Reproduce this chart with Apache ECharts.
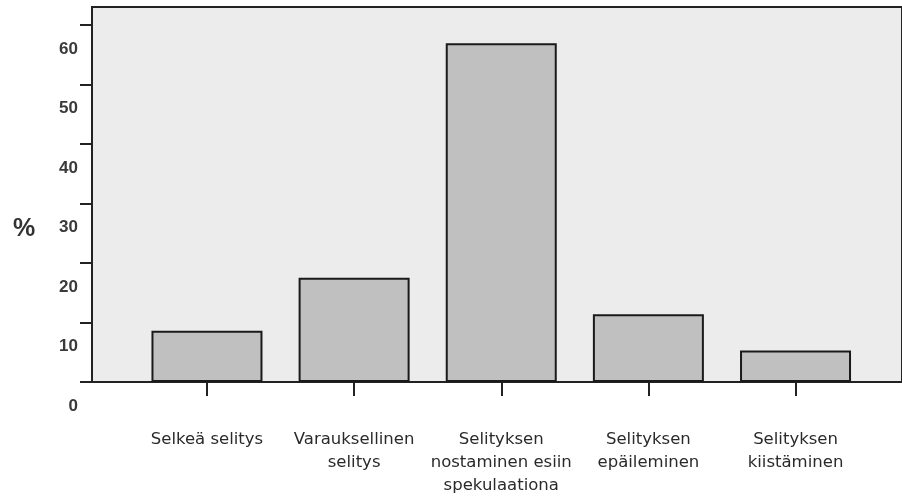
<!DOCTYPE html>
<html>
<head>
<meta charset="utf-8">
<script src="https://cdn.jsdelivr.net/npm/echarts@6/dist/echarts.min.js"></script>
<style>
html,body{margin:0;padding:0;background:#fff;}
#chart{width:902px;height:497px;}
</style>
</head>
<body>
<div id="chart"></div>
<script>
var categories = ['Selkeä selitys', 'Varauksellinen\nselitys', 'Selityksen\nnostaminen esiin\nspekulaationa', 'Selityksen\nepäileminen', 'Selityksen\nkiistäminen'];
var values = [8.6, 17.5, 56.9, 11.4, 5.3];
var yTicks = [0, 10, 20, 30, 40, 50, 60];
var yMax = 63;

var chart = echarts.init(document.getElementById('chart'));
chart.setOption({
  animation: false,
  title: {
    text: '%', left: 8, top: 212,
    textStyle: {fontFamily: 'Liberation Sans', fontWeight: 'bold', fontSize: 25, color: '#333'}
  },
  grid: [
    {left: 92, top: 7, width: 815, bottom: 115, show: true, backgroundColor: '#ececec', borderColor: '#222', borderWidth: 2},
    {left: 133.4, top: 7, width: 735.7, bottom: 115}
  ],
  xAxis: [
    {gridIndex: 0, type: 'value', min: 0, max: 1, axisLine: {show: true, lineStyle: {color: '#222', width: 2}}, axisTick: {show: false}, axisLabel: {show: false}, splitLine: {show: false}},
    {gridIndex: 1, type: 'category', data: categories,
      axisLine: {show: false},
      axisTick: {show: true, alignWithLabel: true, length: 14, lineStyle: {color: '#222', width: 2}},
      axisLabel: {margin: 46, fontFamily: 'DejaVu Sans', fontSize: 16.5, lineHeight: 23, color: '#2a2a2a', interval: 0}
    }
  ],
  yAxis: [
    {gridIndex: 0, type: 'value', min: 0, max: yMax,
      axisLine: {show: true, lineStyle: {color: '#222', width: 2}},
      axisTick: {show: true, length: 12, customValues: yTicks, lineStyle: {color: '#222', width: 2}},
      axisLabel: {customValues: yTicks, margin: 14, verticalAlign: 'top', lineHeight: 48, fontFamily: 'Liberation Sans', fontWeight: 'bold', fontSize: 17, color: '#3a3a3a'},
      splitLine: {show: false}
    },
    {gridIndex: 1, type: 'value', min: 0, max: yMax, show: false, splitLine: {show: false}}
  ],
  series: [{
    type: 'bar', xAxisIndex: 1, yAxisIndex: 1, data: values, barWidth: 111,
    itemStyle: {color: '#c0c0c0', borderColor: '#1a1a1a', borderWidth: 2}
  }]
});
</script>
</body>
</html>
